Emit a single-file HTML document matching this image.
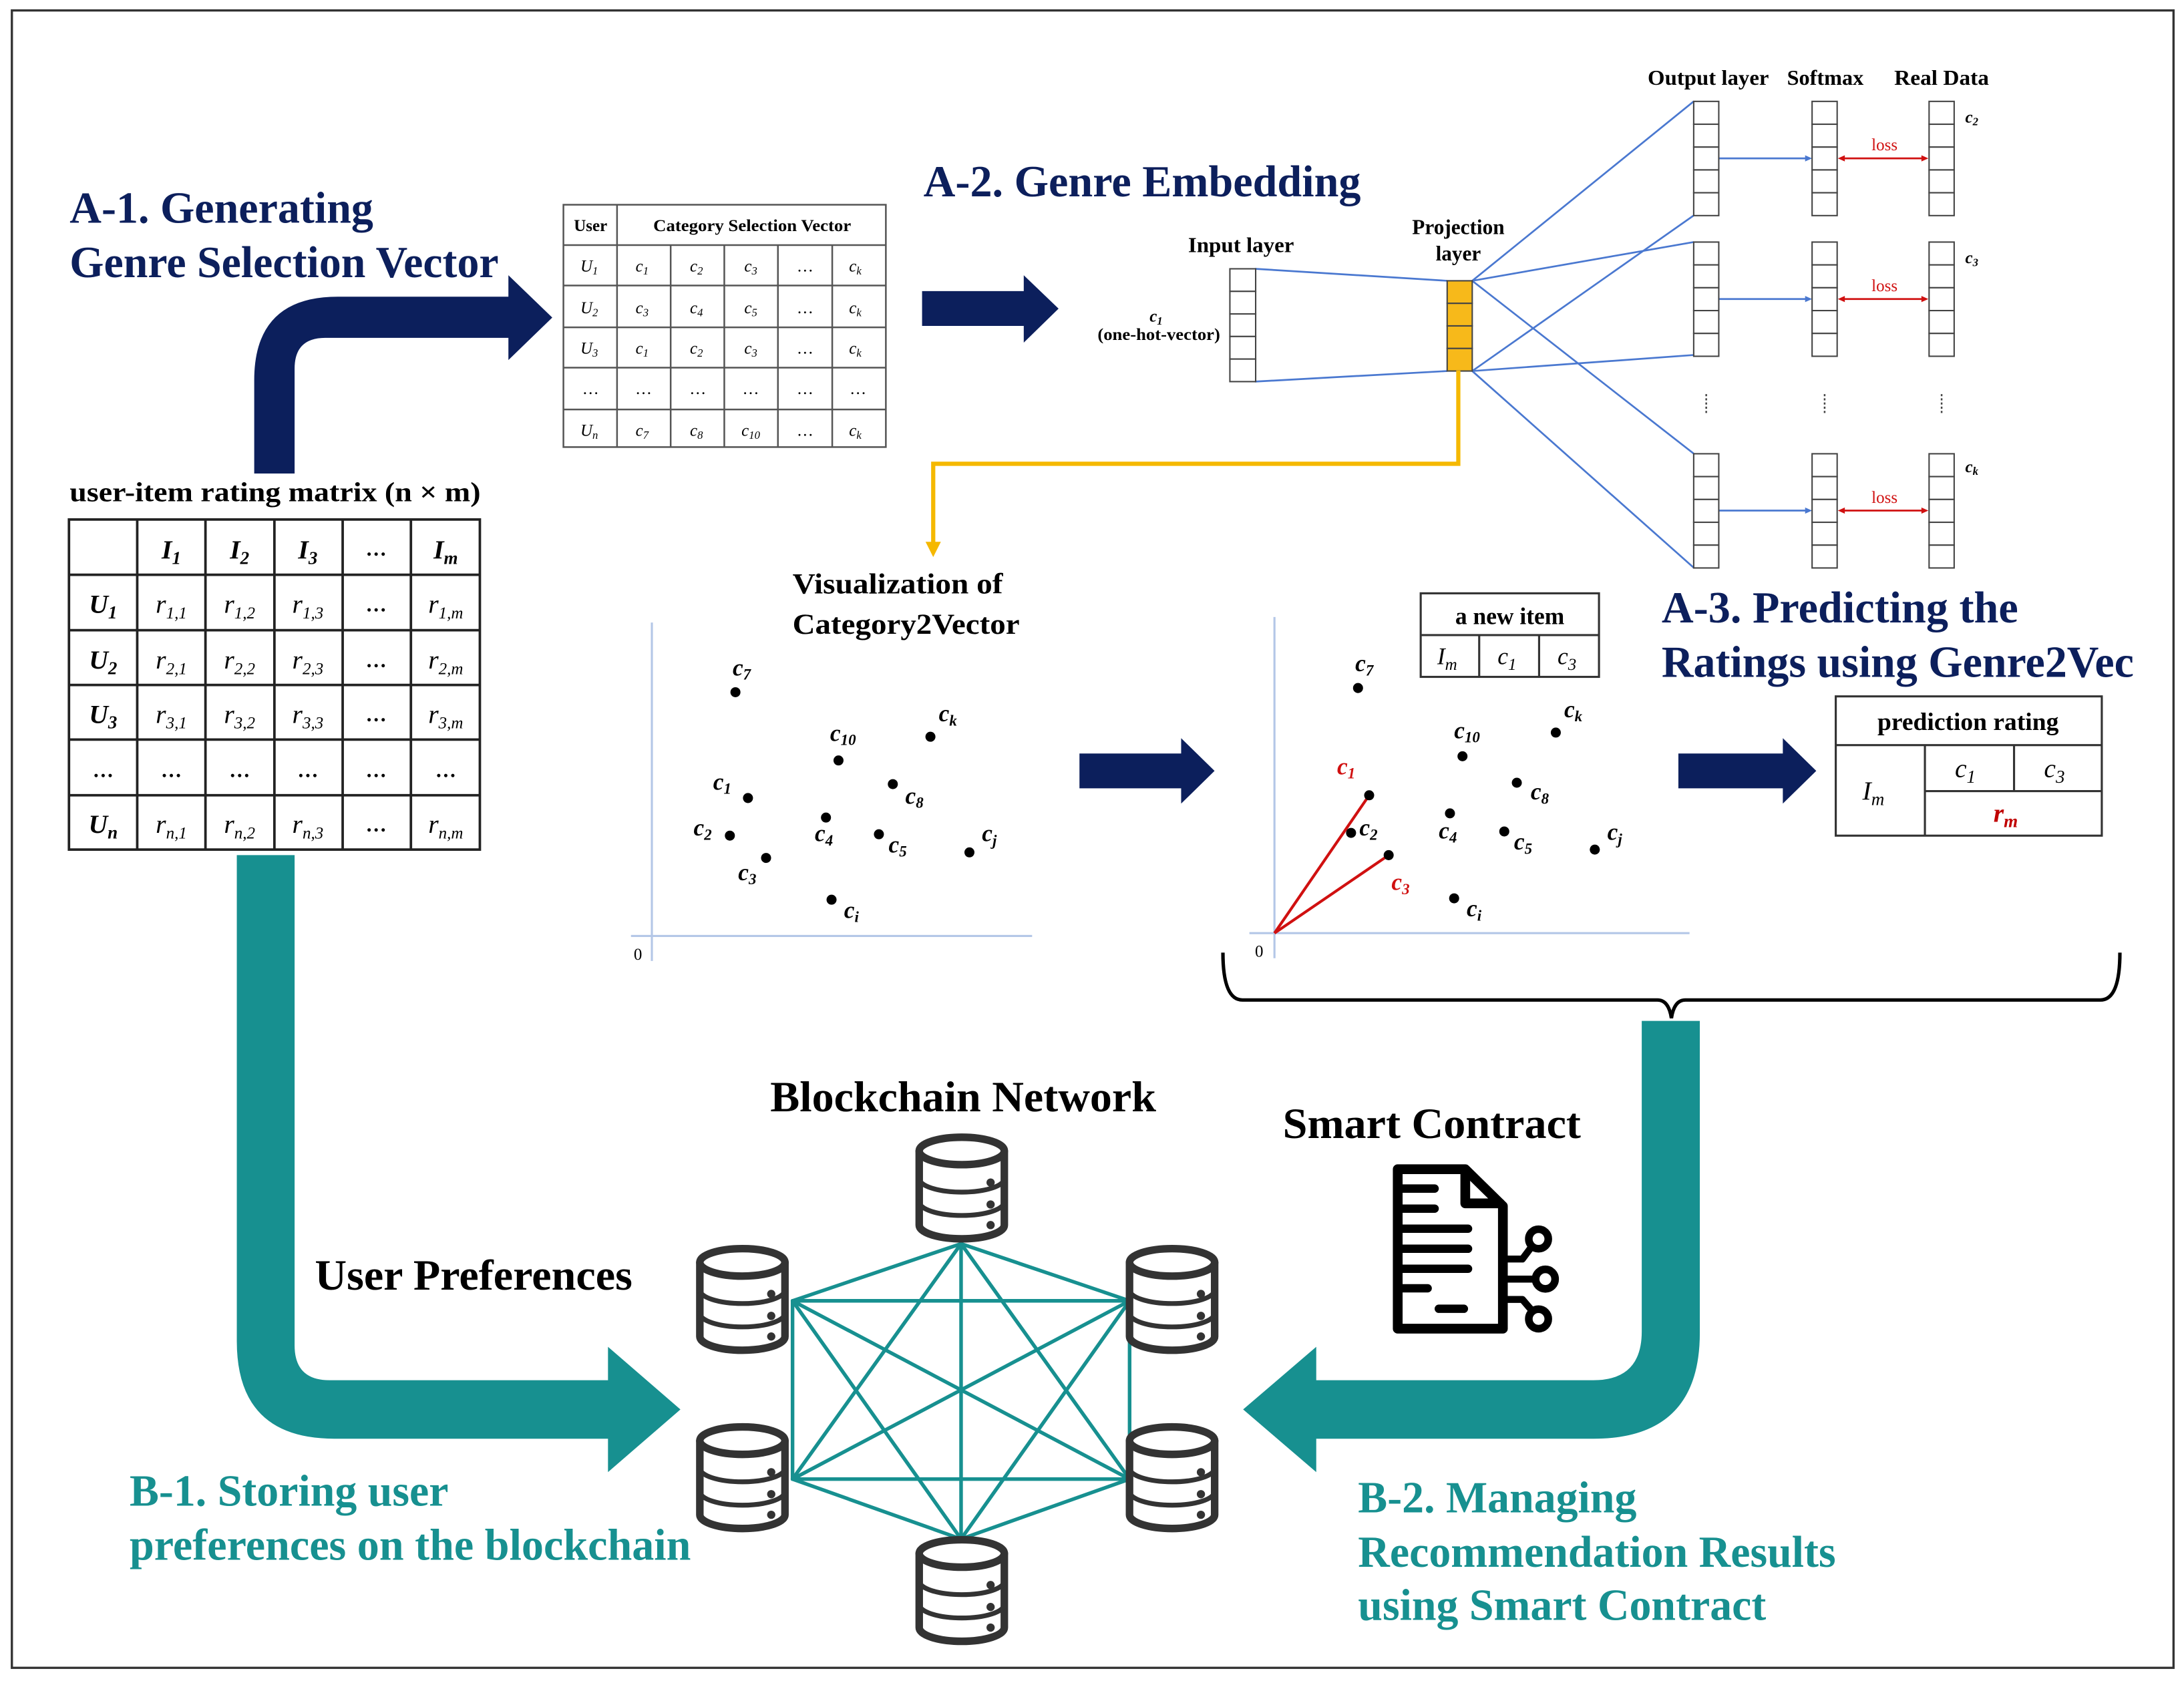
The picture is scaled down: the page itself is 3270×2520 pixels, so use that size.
<!DOCTYPE html>
<html><head><meta charset="utf-8"><style>
html,body{margin:0;padding:0;background:#fff;}
svg{display:block;}
text{font-family:"Liberation Serif",serif;}
.b{font-weight:bold;}
.i{font-style:italic;}
</style></head><body>
<svg width="3270" height="2520" viewBox="0 0 1568 1208.4" xmlns="http://www.w3.org/2000/svg">
<defs>
<symbol id="db" viewBox="0 0 70 80">
<g fill="none" stroke="#333" stroke-linecap="round">
<ellipse cx="35" cy="13" rx="31" ry="10" stroke-width="5.5"/>
<path d="M4,13 L4,67 A31,10 0 0 0 66,67 L66,13" stroke-width="5.5"/>
<path d="M4,33 A31,10 0 0 0 66,33" stroke-width="3.5"/>
<path d="M4,50 A31,10 0 0 0 66,50" stroke-width="3.5"/>
</g>
<circle cx="56" cy="36" r="3" fill="#333"/>
<circle cx="56" cy="52" r="3" fill="#333"/>
<circle cx="56" cy="67" r="3" fill="#333"/>
</symbol>
</defs>
<rect x="8.5" y="7.5" width="1552" height="1190" fill="none" stroke="#333" stroke-width="1.6"/>

<!-- Titles -->
<g class="b" fill="#0c1f5c" font-size="32" font-weight="bold">
<text x="50" y="160" textLength="218" lengthAdjust="spacingAndGlyphs">A-1. Generating</text>
<text x="50" y="199" textLength="308" lengthAdjust="spacingAndGlyphs">Genre Selection Vector</text>
<text x="663" y="141" textLength="314" lengthAdjust="spacingAndGlyphs">A-2. Genre Embedding</text>
<text x="1193" y="447" textLength="256" lengthAdjust="spacingAndGlyphs">A-3. Predicting the</text>
<text x="1193" y="486" textLength="339" lengthAdjust="spacingAndGlyphs">Ratings using Genre2Vec</text>
</g>
<g fill="#179090" font-size="32" font-weight="bold">
<text x="93" y="1081" textLength="229" lengthAdjust="spacingAndGlyphs">B-1. Storing user</text>
<text x="93" y="1120" textLength="403" lengthAdjust="spacingAndGlyphs">preferences on the blockchain</text>
<text x="975" y="1086" textLength="200" lengthAdjust="spacingAndGlyphs">B-2. Managing</text>
<text x="975" y="1125" textLength="343" lengthAdjust="spacingAndGlyphs">Recommendation Results</text>
<text x="975" y="1163" textLength="293" lengthAdjust="spacingAndGlyphs">using Smart Contract</text>
</g>
<g fill="#000" font-weight="bold">
<text x="553" y="798" font-size="31" textLength="277" lengthAdjust="spacingAndGlyphs">Blockchain Network</text>
<text x="921" y="817" font-size="31" textLength="214" lengthAdjust="spacingAndGlyphs">Smart Contract</text>
<text x="226" y="926" font-size="31" textLength="228" lengthAdjust="spacingAndGlyphs">User Preferences</text>
<text x="50" y="360" font-size="20" textLength="295" lengthAdjust="spacingAndGlyphs">user-item rating matrix (n × m)</text>
<text x="569" y="426" font-size="21" textLength="151" lengthAdjust="spacingAndGlyphs">Visualization of</text>
<text x="569" y="455" font-size="21" textLength="163" lengthAdjust="spacingAndGlyphs">Category2Vector</text>
<text x="1183" y="61" font-size="15" textLength="87" lengthAdjust="spacingAndGlyphs">Output layer</text>
<text x="1283" y="61" font-size="15" textLength="55" lengthAdjust="spacingAndGlyphs">Softmax</text>
<text x="1360" y="61" font-size="15" textLength="68" lengthAdjust="spacingAndGlyphs">Real Data</text>
<text x="853" y="181" font-size="15" textLength="76" lengthAdjust="spacingAndGlyphs">Input layer</text>
<text x="1047" y="168" font-size="15" text-anchor="middle">Projection</text>
<text x="1047" y="187" font-size="15" text-anchor="middle">layer</text>
<text x="830" y="231" font-size="12" class="i" text-anchor="middle">c<tspan font-size="8" dy="2">1</tspan></text>
<text x="832" y="244" font-size="12" text-anchor="middle" textLength="88" lengthAdjust="spacingAndGlyphs">(one-hot-vector)</text>
</g>

<!-- Navy arrows -->
<g fill="#0c1f5c">
<path d="M182.5,340 L182.5,273 Q182.5,213 242.5,213 L365,213 L365,197.6 L396.5,228 L365,258.5 L365,242.6 L233.5,242.6 Q211.5,242.6 211.5,264.6 L211.5,340 Z"/>
<path d="M662,209 L735,209 L735,197.6 L760,221.6 L735,246 L735,234 L662,234 Z"/>
<path d="M775,541 L848,541 L848,530 L872,553.5 L848,577 L848,566 L775,566 Z"/>
<path d="M1205,541 L1280,541 L1280,530 L1304,553.5 L1280,577 L1280,566 L1205,566 Z"/>
</g>

<!-- Teal arrows -->
<g fill="#179090">
<path d="M170,614 L170,963 Q170,1033 240,1033 L436.5,1033 L436.5,1057 L488.5,1012 L436.5,967 L436.5,991 L236.5,991 Q211.5,991 211.5,966 L211.5,614 Z"/>
<path d="M1220.4,733 L1220.4,957 Q1220.4,1033 1144,1033 L945,1033 L945,1057 L892.5,1012 L945,967 L945,991 L1144,991 Q1178.7,991 1178.7,956 L1178.7,733 Z"/>
</g>

<!-- Category selection table -->
<g stroke="#555" stroke-width="1.2" fill="none">
<rect x="404.5" y="147" width="231.5" height="174"/>
<line x1="404.5" y1="176" x2="636" y2="176"/>
<line x1="404.5" y1="205" x2="636" y2="205"/>
<line x1="404.5" y1="235" x2="636" y2="235"/>
<line x1="404.5" y1="264" x2="636" y2="264"/>
<line x1="404.5" y1="294" x2="636" y2="294"/>
<line x1="443" y1="147" x2="443" y2="321"/>
<line x1="481.5" y1="176" x2="481.5" y2="321"/>
<line x1="520" y1="176" x2="520" y2="321"/>
<line x1="558.5" y1="176" x2="558.5" y2="321"/>
<line x1="597.5" y1="176" x2="597.5" y2="321"/>
</g>
<g font-size="12" text-anchor="middle" fill="#000">
<text x="424" y="166" font-weight="bold">User</text>
<text x="540" y="166" font-weight="bold" textLength="142" lengthAdjust="spacingAndGlyphs">Category Selection Vector</text>
<g class="i">
<text x="423" y="195">U<tspan font-size="8" dy="2">1</tspan></text>
<text x="461" y="195">c<tspan font-size="8" dy="2">1</tspan></text>
<text x="500" y="195">c<tspan font-size="8" dy="2">2</tspan></text>
<text x="539" y="195">c<tspan font-size="8" dy="2">3</tspan></text>
<text x="614" y="195">c<tspan font-size="8" dy="2">k</tspan></text>
<text x="423" y="225">U<tspan font-size="8" dy="2">2</tspan></text>
<text x="461" y="225">c<tspan font-size="8" dy="2">3</tspan></text>
<text x="500" y="225">c<tspan font-size="8" dy="2">4</tspan></text>
<text x="539" y="225">c<tspan font-size="8" dy="2">5</tspan></text>
<text x="614" y="225">c<tspan font-size="8" dy="2">k</tspan></text>
<text x="423" y="254">U<tspan font-size="8" dy="2">3</tspan></text>
<text x="461" y="254">c<tspan font-size="8" dy="2">1</tspan></text>
<text x="500" y="254">c<tspan font-size="8" dy="2">2</tspan></text>
<text x="539" y="254">c<tspan font-size="8" dy="2">3</tspan></text>
<text x="614" y="254">c<tspan font-size="8" dy="2">k</tspan></text>
<text x="423" y="313">U<tspan font-size="8" dy="2">n</tspan></text>
<text x="461" y="313">c<tspan font-size="8" dy="2">7</tspan></text>
<text x="500" y="313">c<tspan font-size="8" dy="2">8</tspan></text>
<text x="539" y="313">c<tspan font-size="8" dy="2">10</tspan></text>
<text x="614" y="313">c<tspan font-size="8" dy="2">k</tspan></text>
</g>
<text x="578" y="254">…</text><text x="578" y="225">…</text><text x="578" y="195">…</text><text x="578" y="313">…</text>
<text x="424" y="283">…</text><text x="462" y="283">…</text><text x="501" y="283">…</text><text x="539" y="283">…</text><text x="578" y="283">…</text><text x="616" y="283">…</text>
</g>

<!-- Rating matrix -->
<g stroke="#222" stroke-width="1.8" fill="none">
<rect x="49.5" y="373" width="295" height="237"/>
<line x1="49.5" y1="412.7" x2="344.5" y2="412.7"/>
<line x1="49.5" y1="452.5" x2="344.5" y2="452.5"/>
<line x1="49.5" y1="491.8" x2="344.5" y2="491.8"/>
<line x1="49.5" y1="531" x2="344.5" y2="531"/>
<line x1="49.5" y1="571" x2="344.5" y2="571"/>
<line x1="98.5" y1="373" x2="98.5" y2="610"/>
<line x1="147.5" y1="373" x2="147.5" y2="610"/>
<line x1="197" y1="373" x2="197" y2="610"/>
<line x1="246" y1="373" x2="246" y2="610"/>
<line x1="295" y1="373" x2="295" y2="610"/>
</g>
<g font-size="19" text-anchor="middle" fill="#000">
<g class="i" font-weight="bold">
<text x="123" y="401">I<tspan font-size="13" dy="4">1</tspan></text>
<text x="172" y="401">I<tspan font-size="13" dy="4">2</tspan></text>
<text x="221" y="401">I<tspan font-size="13" dy="4">3</tspan></text>
<text x="320" y="401">I<tspan font-size="13" dy="4">m</tspan></text>
<text x="74" y="440">U<tspan font-size="13" dy="4">1</tspan></text>
<text x="74" y="480">U<tspan font-size="13" dy="4">2</tspan></text>
<text x="74" y="519">U<tspan font-size="13" dy="4">3</tspan></text>
<text x="74" y="598">U<tspan font-size="13" dy="4">n</tspan></text>
</g>
<g class="i">
<text x="123" y="440">r<tspan font-size="12" dy="4">1,1</tspan></text>
<text x="172" y="440">r<tspan font-size="12" dy="4">1,2</tspan></text>
<text x="221" y="440">r<tspan font-size="12" dy="4">1,3</tspan></text>
<text x="320" y="440">r<tspan font-size="12" dy="4">1,m</tspan></text>
<text x="123" y="480">r<tspan font-size="12" dy="4">2,1</tspan></text>
<text x="172" y="480">r<tspan font-size="12" dy="4">2,2</tspan></text>
<text x="221" y="480">r<tspan font-size="12" dy="4">2,3</tspan></text>
<text x="320" y="480">r<tspan font-size="12" dy="4">2,m</tspan></text>
<text x="123" y="519">r<tspan font-size="12" dy="4">3,1</tspan></text>
<text x="172" y="519">r<tspan font-size="12" dy="4">3,2</tspan></text>
<text x="221" y="519">r<tspan font-size="12" dy="4">3,3</tspan></text>
<text x="320" y="519">r<tspan font-size="12" dy="4">3,m</tspan></text>
<text x="123" y="598">r<tspan font-size="12" dy="4">n,1</tspan></text>
<text x="172" y="598">r<tspan font-size="12" dy="4">n,2</tspan></text>
<text x="221" y="598">r<tspan font-size="12" dy="4">n,3</tspan></text>
<text x="320" y="598">r<tspan font-size="12" dy="4">n,m</tspan></text>
</g>
<g font-size="15" font-weight="bold">
<text x="270" y="399">…</text><text x="270" y="439">…</text><text x="270" y="479">…</text><text x="270" y="518">…</text><text x="270" y="597">…</text>
<text x="74" y="558">…</text><text x="123" y="558">…</text><text x="172" y="558">…</text><text x="221" y="558">…</text><text x="270" y="558">…</text><text x="320" y="558">…</text>
</g>
</g>

<!-- Neural net -->
<g stroke="#4a78d0" stroke-width="1.3" fill="none">
<line x1="901" y1="193" x2="1039" y2="201.6"/>
<line x1="901" y1="274" x2="1039" y2="266.4"/>
<line x1="1057" y1="201.6" x2="1216" y2="72.8"/>
<line x1="1057" y1="201.6" x2="1216" y2="173.8"/>
<line x1="1057" y1="201.6" x2="1216" y2="325.7"/>
<line x1="1057" y1="266.4" x2="1216" y2="154.7"/>
<line x1="1057" y1="266.4" x2="1216" y2="254.9"/>
<line x1="1057" y1="266.4" x2="1216" y2="407.6"/>
<line x1="1234" y1="113.7" x2="1298" y2="113.7"/>
<line x1="1234" y1="214.7" x2="1298" y2="214.7"/>
<line x1="1234" y1="366.6" x2="1298" y2="366.6"/>
</g>
<g fill="#4a78d0">
<polygon points="1301,113.7 1296,111.5 1296,115.9"/>
<polygon points="1301,214.7 1296,212.5 1296,216.9"/>
<polygon points="1301,366.6 1296,364.4 1296,368.8"/>
</g>
<g stroke="#d01010" stroke-width="1.3">
<line x1="1323" y1="113.7" x2="1381" y2="113.7"/>
<line x1="1323" y1="214.7" x2="1381" y2="214.7"/>
<line x1="1323" y1="366.6" x2="1381" y2="366.6"/>
</g>
<g fill="#d01010">
<polygon points="1319.5,113.7 1324.5,111.5 1324.5,115.9"/><polygon points="1384.5,113.7 1379.5,111.5 1379.5,115.9"/>
<polygon points="1319.5,214.7 1324.5,212.5 1324.5,216.9"/><polygon points="1384.5,214.7 1379.5,212.5 1379.5,216.9"/>
<polygon points="1319.5,366.6 1324.5,364.4 1324.5,368.8"/><polygon points="1384.5,366.6 1379.5,364.4 1379.5,368.8"/>
<text x="1353" y="108" font-size="12" text-anchor="middle">loss</text>
<text x="1353" y="209" font-size="12" text-anchor="middle">loss</text>
<text x="1353" y="361" font-size="12" text-anchor="middle">loss</text>
</g>
<!-- input box -->
<g stroke="#444" stroke-width="1" fill="#fff">
<rect x="883" y="193" width="18.5" height="16.2"/><rect x="883" y="209.2" width="18.5" height="16.2"/><rect x="883" y="225.4" width="18.5" height="16.2"/><rect x="883" y="241.6" width="18.5" height="16.2"/><rect x="883" y="257.8" width="18.5" height="16.2"/>
</g>
<g stroke="#444" stroke-width="1" fill="#f7b91a">
<rect x="1039" y="201.6" width="18" height="16.2"/><rect x="1039" y="217.8" width="18" height="16.2"/><rect x="1039" y="234" width="18" height="16.2"/><rect x="1039" y="250.2" width="18" height="16.2"/>
</g>
<g id="col" stroke="#444" stroke-width="1" fill="#fff">
<rect x="1216" y="72.8" width="18" height="16.4"/><rect x="1216" y="89.2" width="18" height="16.4"/><rect x="1216" y="105.6" width="18" height="16.4"/><rect x="1216" y="122" width="18" height="16.4"/><rect x="1216" y="138.4" width="18" height="16.4"/>
</g>
<use href="#col" x="85" y="0"/><use href="#col" x="169" y="0"/>
<use href="#col" x="0" y="101"/><use href="#col" x="85" y="101"/><use href="#col" x="169" y="101"/>
<use href="#col" x="0" y="253"/><use href="#col" x="85" y="253"/><use href="#col" x="169" y="253"/>
<g stroke="#444" stroke-width="1.2" stroke-dasharray="1.5,1.5">
<line x1="1225" y1="283" x2="1225" y2="297"/><line x1="1310" y1="283" x2="1310" y2="297"/><line x1="1394" y1="283" x2="1394" y2="297"/>
</g>
<g class="i" font-weight="bold" font-size="12" fill="#000">
<text x="1411" y="88">c<tspan font-size="8" dy="2">2</tspan></text>
<text x="1411" y="189">c<tspan font-size="8" dy="2">3</tspan></text>
<text x="1411" y="339">c<tspan font-size="8" dy="2">k</tspan></text>
</g>

<!-- yellow connector -->
<path d="M1047,266 L1047,333 L670,333 L670,391" fill="none" stroke="#f5b800" stroke-width="3"/>
<polygon points="664.5,389 675.5,389 670,400" fill="#f5b800"/>

<!-- Left scatter -->
<g stroke="#b4c7e7" stroke-width="1.5">
<line x1="468" y1="447" x2="468" y2="690"/>
<line x1="453" y1="672" x2="741" y2="672"/>
</g>
<text x="458" y="689" font-size="12" text-anchor="middle">0</text>
<g fill="#000">
<circle cx="528" cy="497" r="3.6"/><circle cx="602" cy="546" r="3.6"/><circle cx="668" cy="529" r="3.6"/><circle cx="537" cy="573" r="3.6"/><circle cx="641" cy="563" r="3.6"/><circle cx="524" cy="600" r="3.6"/><circle cx="593" cy="587" r="3.6"/><circle cx="631" cy="599" r="3.6"/><circle cx="696" cy="612" r="3.6"/><circle cx="550" cy="616" r="3.6"/><circle cx="597" cy="646" r="3.6"/>
</g>
<g class="i" font-weight="bold" font-size="17" fill="#000">
<text x="526" y="485">c<tspan font-size="11" dy="3">7</tspan></text>
<text x="596" y="532">c<tspan font-size="11" dy="3">10</tspan></text>
<text x="674" y="518">c<tspan font-size="11" dy="3">k</tspan></text>
<text x="512" y="567">c<tspan font-size="11" dy="3">1</tspan></text>
<text x="650" y="577">c<tspan font-size="11" dy="3">8</tspan></text>
<text x="498" y="600">c<tspan font-size="11" dy="3">2</tspan></text>
<text x="585" y="604">c<tspan font-size="11" dy="3">4</tspan></text>
<text x="638" y="612">c<tspan font-size="11" dy="3">5</tspan></text>
<text x="705" y="604">c<tspan font-size="11" dy="3">j</tspan></text>
<text x="530" y="632">c<tspan font-size="11" dy="3">3</tspan></text>
<text x="606" y="659">c<tspan font-size="11" dy="3">i</tspan></text>
</g>

<!-- Right scatter -->
<g stroke="#b4c7e7" stroke-width="1.5">
<line x1="915" y1="443" x2="915" y2="688"/>
<line x1="897" y1="670" x2="1213" y2="670"/>
</g>
<text x="904" y="687" font-size="12" text-anchor="middle">0</text>
<g stroke="#d01010" stroke-width="2">
<line x1="915" y1="670" x2="983" y2="571"/>
<line x1="915" y1="670" x2="997" y2="614"/>
</g>
<g fill="#000">
<circle cx="975" cy="494" r="3.6"/><circle cx="1050" cy="543" r="3.6"/><circle cx="1117" cy="526" r="3.6"/><circle cx="983" cy="571" r="3.6"/><circle cx="1089" cy="562" r="3.6"/><circle cx="970" cy="598" r="3.6"/><circle cx="1041" cy="584" r="3.6"/><circle cx="1080" cy="597" r="3.6"/><circle cx="1145" cy="610" r="3.6"/><circle cx="997" cy="614" r="3.6"/><circle cx="1044" cy="645" r="3.6"/>
</g>
<g class="i" font-weight="bold" font-size="17" fill="#000">
<text x="973" y="482">c<tspan font-size="11" dy="3">7</tspan></text>
<text x="1044" y="530">c<tspan font-size="11" dy="3">10</tspan></text>
<text x="1123" y="515">c<tspan font-size="11" dy="3">k</tspan></text>
<text x="1099" y="574">c<tspan font-size="11" dy="3">8</tspan></text>
<text x="976" y="600">c<tspan font-size="11" dy="3">2</tspan></text>
<text x="1033" y="602">c<tspan font-size="11" dy="3">4</tspan></text>
<text x="1087" y="610">c<tspan font-size="11" dy="3">5</tspan></text>
<text x="1154" y="603">c<tspan font-size="11" dy="3">j</tspan></text>
<text x="1053" y="658">c<tspan font-size="11" dy="3">i</tspan></text>
<g fill="#d01010">
<text x="960" y="556">c<tspan font-size="11" dy="3">1</tspan></text>
<text x="999" y="639">c<tspan font-size="11" dy="3">3</tspan></text>
</g>
</g>

<!-- a new item table -->
<g stroke="#333" stroke-width="1.5" fill="none">
<rect x="1020" y="426" width="128" height="60"/>
<line x1="1020" y1="456" x2="1148" y2="456"/>
<line x1="1062" y1="456" x2="1062" y2="486"/>
<line x1="1105" y1="456" x2="1105" y2="486"/>
</g>
<text x="1084" y="448" font-size="17" font-weight="bold" text-anchor="middle">a new item</text>
<g class="i" font-size="17" text-anchor="middle">
<text x="1039" y="477">I<tspan font-size="12" dy="4">m</tspan></text>
<text x="1082" y="477">c<tspan font-size="12" dy="4">1</tspan></text>
<text x="1125" y="477">c<tspan font-size="12" dy="4">3</tspan></text>
</g>

<!-- prediction table -->
<g stroke="#333" stroke-width="1.5" fill="none">
<rect x="1318" y="500" width="191" height="100"/>
<line x1="1318" y1="535" x2="1509" y2="535"/>
<line x1="1382" y1="535" x2="1382" y2="600"/>
<line x1="1382" y1="568" x2="1509" y2="568"/>
<line x1="1446" y1="535" x2="1446" y2="568"/>
</g>
<text x="1413" y="524" font-size="18" font-weight="bold" text-anchor="middle">prediction rating</text>
<g class="i" font-size="19" text-anchor="middle">
<text x="1345" y="574">I<tspan font-size="13" dy="4">m</tspan></text>
<text x="1411" y="558">c<tspan font-size="13" dy="4">1</tspan></text>
<text x="1475" y="558">c<tspan font-size="13" dy="4">3</tspan></text>
<text x="1440" y="590" fill="#c00000" font-weight="bold">r<tspan font-size="13" dy="4">m</tspan></text>
</g>

<!-- brace -->
<path d="M878,684 Q878,718 892,718 L1190,718 Q1198,718 1200,731 Q1202,718 1210,718 L1508,718 Q1522,718 1522,684" fill="none" stroke="#000" stroke-width="2.5"/>

<!-- Blockchain network -->
<g stroke="#179090" stroke-width="2.6" stroke-linecap="round">
<line x1="690" y1="893" x2="569" y2="934"/><line x1="690" y1="893" x2="569" y2="1062"/><line x1="690" y1="893" x2="811" y2="934"/><line x1="690" y1="893" x2="811" y2="1062"/><line x1="690" y1="893" x2="690" y2="1105"/>
<line x1="569" y1="934" x2="569" y2="1062"/><line x1="569" y1="934" x2="811" y2="934"/><line x1="569" y1="934" x2="811" y2="1062"/><line x1="569" y1="934" x2="690" y2="1105"/>
<line x1="569" y1="1062" x2="811" y2="934"/><line x1="569" y1="1062" x2="811" y2="1062"/><line x1="569" y1="1062" x2="690" y2="1105"/>
<line x1="811" y1="934" x2="811" y2="1062"/><line x1="811" y1="934" x2="690" y2="1105"/>
<line x1="811" y1="1062" x2="690" y2="1105"/>
</g>
<use href="#db" x="656" y="813" width="69" height="80"/>
<use href="#db" x="498.5" y="893" width="69" height="80"/>
<use href="#db" x="498.5" y="1021" width="69" height="80"/>
<use href="#db" x="807" y="893" width="69" height="80"/>
<use href="#db" x="807" y="1021" width="69" height="80"/>
<use href="#db" x="656" y="1102" width="69" height="80"/>

<!-- smart contract doc icon -->
<g fill="none" stroke="#000" stroke-width="7" stroke-linejoin="round" stroke-linecap="round">
<path d="M1003.5,839.5 L1052,839.5 L1079,866 L1079,954 L1003.5,954 Z"/>
<path d="M1052,841 L1052,864 L1077,864"/>
<line x1="1006" y1="853.4" x2="1030" y2="853.4" stroke-width="6"/>
<line x1="1006" y1="867.8" x2="1030" y2="867.8" stroke-width="6"/>
<line x1="1006" y1="882.2" x2="1054" y2="882.2" stroke-width="6"/>
<line x1="1006" y1="896.6" x2="1054" y2="896.6" stroke-width="6"/>
<line x1="1006" y1="911" x2="1054" y2="911" stroke-width="6"/>
<line x1="1006" y1="925" x2="1025" y2="925" stroke-width="6"/>
<line x1="1033" y1="939.7" x2="1051" y2="939.7" stroke-width="6"/>
<path d="M1080,904 L1093,904 L1099,896" stroke-width="5"/>
<path d="M1080,918.4 L1100,918.4" stroke-width="5"/>
<path d="M1080,933 L1093,933 L1099,940" stroke-width="5"/>
<circle cx="1104.6" cy="889.6" r="7" stroke-width="5.5"/>
<circle cx="1109.5" cy="918.4" r="7" stroke-width="5.5"/>
<circle cx="1104.6" cy="947" r="7" stroke-width="5.5"/>
</g>
</svg>
</body></html>
